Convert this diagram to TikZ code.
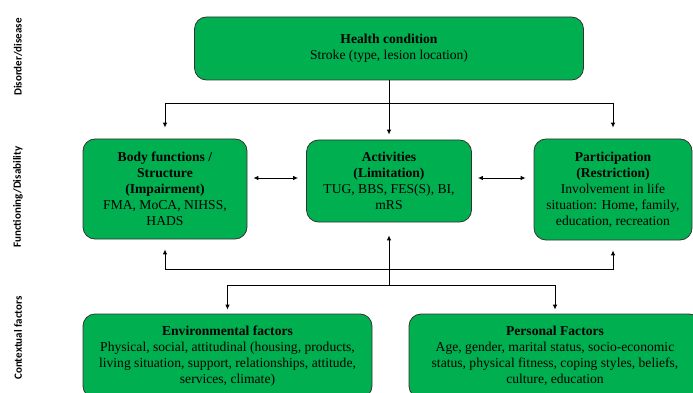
\documentclass[tikz,border=0pt]{standalone}
\usepackage{fontspec}
\setmainfont{Liberation Serif}
\newfontfamily\rowfont{Carlito}
\usetikzlibrary{arrows.meta}

\definecolor{boxgreen}{HTML}{00B050}
\tikzset{
  icfbox/.style={draw=black!80,line width=0.8pt,fill=boxgreen,rounded corners=12pt,
    align=center,inner sep=0pt,font=\fontsize{13.6}{16}\selectfont},
  rowlabel/.style={rotate=90,font=\rowfont\bfseries\fontsize{11}{13}\selectfont},
  arr/.style={line width=0.9pt,-{Latex[length=5pt,width=4.5pt]}},
  dbl/.style={line width=0.9pt,{Latex[length=5pt,width=4.5pt]}-{Latex[length=5pt,width=4.5pt]}}
}

\begin{document}
\begin{tikzpicture}[x=1pt,y=-1pt]
                \useasboundingbox(0,0)rectangle(693,393);
                % row labels
                \node[rowlabel](lab1)at(18,57){Disorder/disease};
                \node[rowlabel](lab2)at(18,197){Functioning/Disability};
                \node[rowlabel](lab3)at(18,338){Contextual factors};
                % boxes
                \node[icfbox,minimum width=389,minimum height=63](health)at(389,48.5)
                    {\textbf{Health condition}\\Stroke (type, lesion location)};
                \node[icfbox,minimum width=164,minimum height=100](body)at(165,189)
                    {\textbf{Body functions /}\\\textbf{Structure}\\\textbf{(Impairment)}\\FMA, MoCA, NIHSS,\\HADS};
                \node[icfbox,minimum width=165,minimum height=82](act)at(389,181)
                    {\textbf{Activities}\\\textbf{(Limitation)}\\TUG, BBS, FES(S), BI,\\mRS};
                \node[icfbox,minimum width=158,minimum height=101](part)at(613,189.5)
                    {\textbf{Participation}\\\textbf{(Restriction)}\\Involvement in life\\situation: Home, family,\\education, recreation};
                \node[icfbox,minimum width=289,minimum height=84](env)at(227.5,356)
                    {\textbf{Environmental factors}\\Physical, social, attitudinal (housing, products,\\living situation, support, relationships, attitude,\\services, climate)};
                \node[icfbox,minimum width=292,minimum height=84](pers)at(555,356)
                    {\textbf{Personal Factors}\\Age, gender, marital status, socio-economic\\status, physical fitness, coping styles, beliefs,\\culture, education};
                % connectors
                \coordinate(split)at(389,103);
                \coordinate(up)at(389,269);
                \coordinate(down)at(389,285);
                \draw[arr,shorten >=5pt](health.south)--(act.north);
                \draw[arr,shorten >=11pt](split)-|(body.north);
                \draw[arr,shorten >=11pt](split)-|(part.north);
                \draw[dbl,shorten <=6pt,shorten >=8pt](body.east|-0,178)--(act.west|-0,178);
                \draw[dbl,shorten <=6pt,shorten >=8pt](act.east|-0,178)--(part.west|-0,178);
                \draw[arr,shorten >=10pt](up)-|(body.south);
                \draw[arr,shorten >=10pt](up)-|(part.south);
                \draw[arr,shorten >=13pt](down)--(act.south);
                \draw[arr,shorten >=4pt](down)-|(env.north);
                \draw[arr,shorten >=4pt](down)-|(pers.north);
            \end{tikzpicture}
\end{document}
